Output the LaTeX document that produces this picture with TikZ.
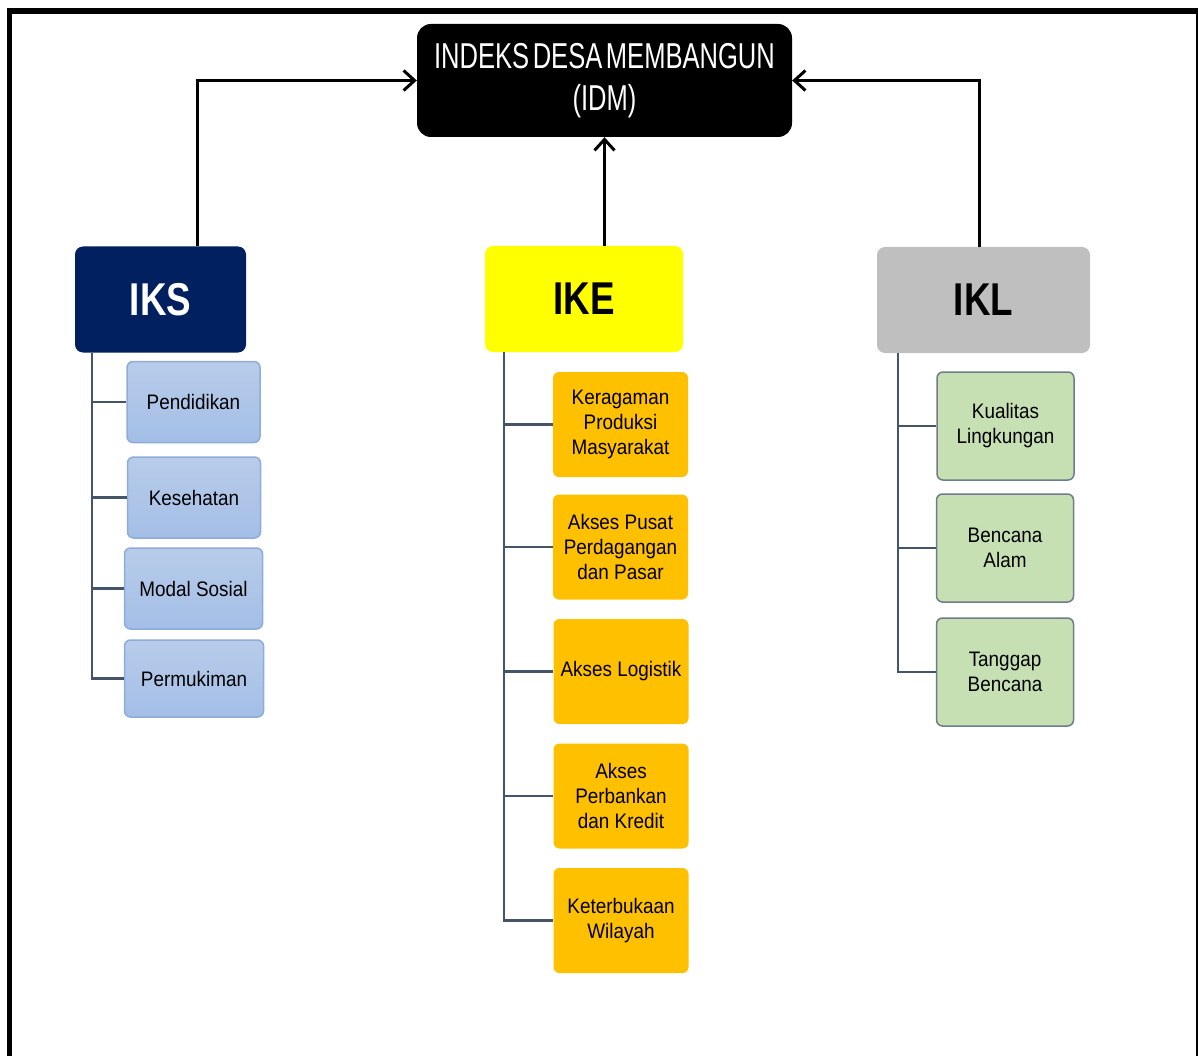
\documentclass[tikz,border=0pt]{standalone}
\usepackage{fontspec}
\setmainfont{Liberation Sans}
\newfontfamily\narrowfont[FakeStretch=0.9]{Liberation Sans}
\newfontfamily\titlefont[FakeStretch=0.71,WordSpace=0.5]{Liberation Sans}
\newfontfamily\headfont[FakeStretch=0.8]{Liberation Sans}
\usepackage{tikz}
\usetikzlibrary{arrows.meta}
\definecolor{iksblue}{HTML}{002060}
\definecolor{ikeyellow}{HTML}{FFFF00}
\definecolor{iklgrey}{HTML}{BFBFBF}
\definecolor{subblue}{HTML}{A3BEE6}
\definecolor{subbluetop}{HTML}{B8CCEA}
\definecolor{subblueline}{HTML}{8EACDA}
\definecolor{suborange}{HTML}{FFC000}
\definecolor{subgreen}{HTML}{C6E0B4}
\definecolor{subgreenline}{HTML}{6F7C89}
\definecolor{treeline}{HTML}{46546A}

\begin{document}
\begin{tikzpicture}[x=1pt,y=-1pt]
\tikzset{idm style/.style={fill=black, rounded corners=14pt, minimum width=375pt, minimum height=113pt, text=white, align=center, font=\titlefont\fontsize{36}{42}\selectfont}}
\tikzset{head style/.style={rounded corners=8pt, minimum height=106pt, font=\headfont\bfseries\fontsize{46}{50}\selectfont}}
\tikzset{sub style/.style={rounded corners=6pt, align=center, inner sep=2pt, font=\narrowfont\fontsize{21}{25}\selectfont}}
\tikzset{iks sub/.style={sub style, draw=subblueline, line width=1.5pt, top color=subbluetop, bottom color=subblue, minimum width=133pt, minimum height=81pt}}
\tikzset{ike sub/.style={sub style, fill=suborange, minimum width=135pt, minimum height=105pt}}
\tikzset{ikl sub/.style={sub style, draw=subgreenline, line width=1.5pt, fill=subgreen, minimum width=137pt, minimum height=108pt}}
\tikzset{up link/.style={line width=3pt, -{Straight Barb[length=11pt,width=20pt]}}}
\tikzset{branch/.style={draw=treeline, line width=2.5pt}}
\useasboundingbox (0,0) rectangle (1198,1056);
% frame
\draw[line width=5pt] (9.5,1056) -- (9.5,11);
\draw[line width=6pt] (7,11) -- (1198,11);
\draw[line width=2pt] (1197,11) -- (1197,1056);

\node[idm style] (IDM) at (604.5,80.5) {INDEKS DESA MEMBANGUN\\(IDM)};
\node[head style, fill=iksblue, text=white, minimum width=171pt] (IKS) at (160.5,299.5) {IKS};
\node[head style, fill=ikeyellow, minimum width=198pt] (IKE) at (584,299) {IKE};
\node[head style, fill=iklgrey, minimum width=213pt] (IKL) at (983.5,300) {IKL};

\node[iks sub] (S1) at (193.5,402) {Pendidikan};
\node[iks sub] (S2) at (194,497.5) {Kesehatan};
\node[iks sub, minimum width=138pt] (S3) at (193.5,588.5) {Modal Sosial};
\node[iks sub, minimum width=139pt, minimum height=77pt] (S4) at (194,678.5) {Permukiman};

\node[ike sub] (E1) at (620.5,424.5) {Keragaman\\Produksi\\Masyarakat};
\node[ike sub] (E2) at (620.5,547) {Akses Pusat\\Perdagangan\\dan Pasar};
\node[ike sub] (E3) at (621,671.5) {Akses Logistik};
\node[ike sub] (E4) at (621,796) {Akses\\Perbankan\\dan Kredit};
\node[ike sub] (E5) at (621,920.5) {Keterbukaan\\Wilayah};

\node[ikl sub] (L1) at (1005.5,426) {Kualitas\\Lingkungan};
\node[ikl sub] (L2) at (1005,548) {Bencana\\Alam};
\node[ikl sub] (L3) at (1005,672) {Tanggap\\Bencana};

\draw[up link] ([xshift=37pt]IKS.north) |- (IDM.west);
\draw[up link] (IKE.north -| IDM.south) -- (IDM.south);
\draw[up link] ([xshift=-4.5pt]IKL.north) |- (IDM.east);

\coordinate (IKSroot) at ([xshift=-68.5pt]IKS.south);
\coordinate (IKEroot) at ([xshift=-80pt]IKE.south);
\coordinate (IKLroot) at ([xshift=-85.5pt]IKL.south);
\draw[branch] (IKSroot) |- (S1.west);
\draw[branch] (IKSroot) |- (S2.west);
\draw[branch] (IKSroot) |- (S3.west);
\draw[branch] (IKSroot) |- (S4.west);
\draw[branch] (IKEroot) |- (E1.west);
\draw[branch] (IKEroot) |- (E2.west);
\draw[branch] (IKEroot) |- (E3.west);
\draw[branch] (IKEroot) |- (E4.west);
\draw[branch] (IKEroot) |- (E5.west);
\draw[branch] (IKLroot) |- (L1.west);
\draw[branch] (IKLroot) |- (L2.west);
\draw[branch] (IKLroot) |- (L3.west);
\end{tikzpicture}
\end{document}
